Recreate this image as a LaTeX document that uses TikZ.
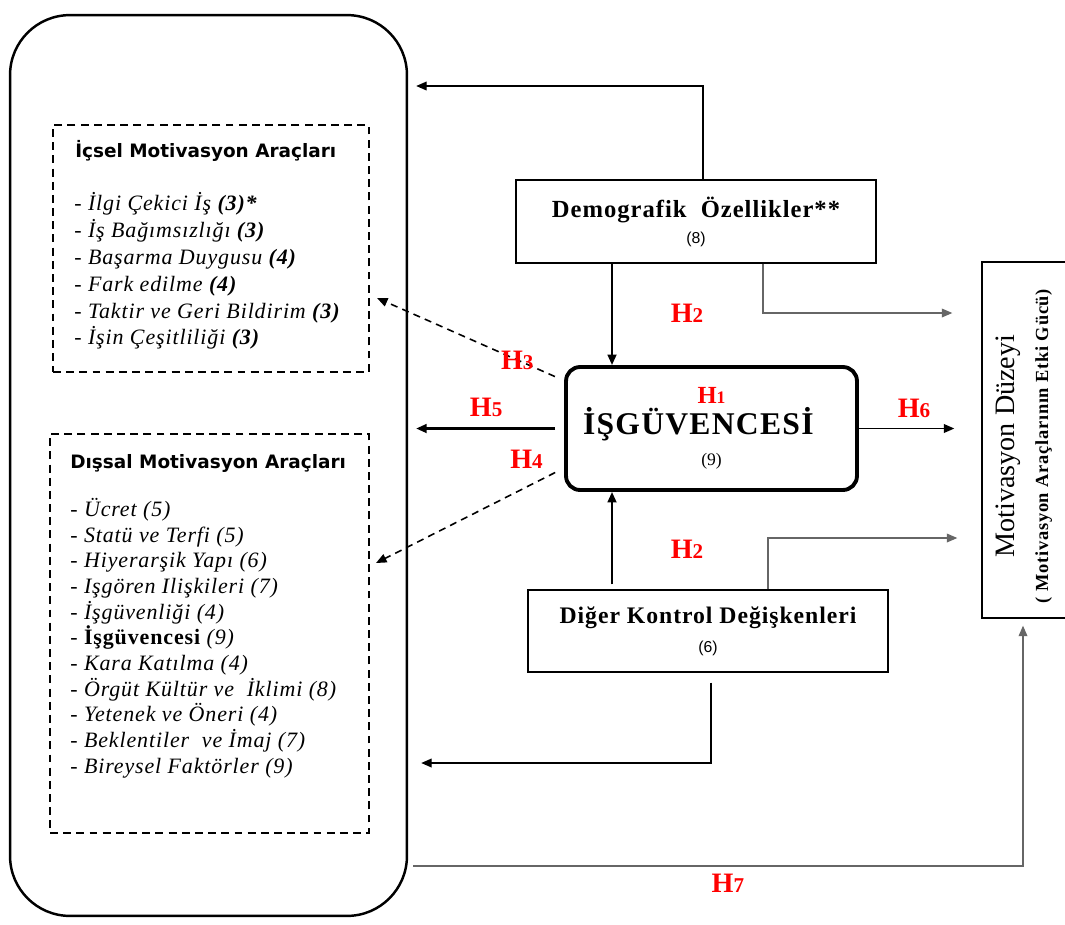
\documentclass[tikz,border=0pt]{standalone}
\usepackage{fontspec}
\setmainfont{Liberation Serif}
\setsansfont{Liberation Sans}
\newfontfamily\widefont{Liberation Serif}[LetterSpace=4]
\newfontfamily\headfont{DejaVu Sans}
\usetikzlibrary{positioning, arrows.meta}

\newcommand{\hyp}[1]{{\fontsize{16}{16}\selectfont H}{\fontsize{12}{12}\selectfont #1}}

\begin{document}
\begin{tikzpicture}[x=0.02cm, y=-0.02cm, >={Triangle[length=6pt,width=5pt]},
    box/.style={draw, line width=0.8pt, align=center, inner sep=0pt},
    dashbox/.style={draw, dash pattern=on 4.5pt off 3pt, line width=0.8pt, inner sep=0pt},
    head/.style={font=\headfont\bfseries\fontsize{10.5}{12}\selectfont, anchor=west, inner sep=0pt},
    items/.style={align=left, anchor=north west, inner sep=0pt},
    hlab/.style={text=red, font=\bfseries, inner sep=0pt},
    thinarrow/.style={->, draw=gray!80!black, line width=0.7pt},
    bold arrow/.style={->, line width=1.3pt}]
    \useasboundingbox (0,0) rectangle (1065,924);

    % Left block: motivation tools
    \node[draw, line width=1.4pt, rounded corners=1.2cm, minimum width=7.94cm, minimum height=18.02cm] (tools) at (208.5,465.5) {};
    \node[dashbox, minimum width=6.32cm, minimum height=4.94cm] (ich) at (211,248.5) {};
    \node[dashbox, minimum width=6.38cm, minimum height=7.98cm] (dis) at (209.5,633.5) {};

    \node[head] (ichead) at (75,151) {İçsel Motivasyon Araçları};
    \node[items, font=\widefont\itshape\fontsize{12.5}{15.3}\selectfont] (ichlist) at (74,192)
        {- İlgi Çekici İş \textbf{(3)*}\\
         - İş Bağımsızlığı \textbf{(3)}\\
         - Başarma Duygusu \textbf{(4)}\\
         - Fark edilme \textbf{(4)}\\
         - Taktir ve Geri Bildirim \textbf{(3)}\\
         - İşin Çeşitliliği \textbf{(3)}};

    \node[head] (dishead) at (70,463) {Dışsal Motivasyon Araçları};
    \node[items, font=\widefont\itshape\fontsize{12.5}{14.6}\selectfont] (dislist) at (70,498)
        {- Ücret (5)\\
         - Statü ve Terfi (5)\\
         - Hiyerarşik Yapı (6)\\
         - Işgören Ilişkileri (7)\\
         - İşgüvenliği (4)\\
         - \textbf{\upshape İşgüvencesi} (9)\\
         - Kara Katılma (4)\\
         - Örgüt Kültür ve \ İklimi (8)\\
         - Yetenek ve Öneri (4)\\
         - Beklentiler \ ve İmaj (7)\\
         - Bireysel Faktörler (9)};

    % Middle blocks
    \node[box, minimum width=7.2cm, minimum height=1.66cm, font=\fontsize{10}{14.7}\selectfont] (demo) at (696,221.5)
        {{\widefont\bfseries\fontsize{14}{14.7}\selectfont Demografik \ Özellikler**}\\ {\sffamily\fontsize{9}{14.7}\selectfont (8)}};
    \node[draw, line width=2.2pt, rounded corners=8pt, align=center, inner sep=0pt,
          minimum width=5.82cm, minimum height=2.46cm, font=\fontsize{10}{17.6}\selectfont] (job) at (711.5,428.5)
        {{\color{red}\bfseries\fontsize{14}{17.6}\selectfont H\fontsize{10}{17.6}\selectfont 1}\\
         {\widefont\bfseries\fontsize{18}{17.6}\selectfont İŞGÜVENCESİ\kern15pt}\\
         {\fontsize{10}{17.6}\selectfont (9)}};
    \node[box, minimum width=7.2cm, minimum height=1.64cm, font=\fontsize{10}{16.4}\selectfont] (cont) at (708,631)
        {{\widefont\bfseries\fontsize{13.5}{16.4}\selectfont Diğer Kontrol Değişkenleri}\\ {\sffamily\fontsize{9}{16.4}\selectfont (6)}};

    % Right block
    \node[box, minimum width=1.68cm, minimum height=7.12cm] (mot) at (1024,440) {};
    \node[rotate=90, align=center, font=\fontsize{16}{19}\selectfont] (mottxt) at (1024,446)
        {Motivasyon Düzeyi\\ {\widefont\bfseries\fontsize{10.5}{10}\selectfont ( Motivasyon Araçlarının Etki Gücü)}};

    % Turning points
    \coordinate (top) at (703,86);
    \coordinate (mid) at (612,0);
    \coordinate (k1) at (763,313);
    \coordinate (k2) at (768,538);
    \coordinate (k3) at (711,763);
    \coordinate (k4) at (1023,866);
    \coordinate (h3end) at (377,298);
    \coordinate (h4end) at (376,563);

    % Connectors
    \draw[->, line width=0.8pt, shorten >=0.16cm] (demo.north -| top) |- (tools.east |- top);
    \draw[bold arrow] (demo.south -| mid) -- (job.north -| mid);
    \draw[thinarrow, shorten >=0.58cm] (demo.south -| k1) |- (mot.west |- k1);
    \draw[bold arrow, shorten <=0.18cm, shorten >=0.16cm] (job.west) -- (tools.east |- job.west)
        node[hlab, midway, above=6pt] {\hyp{5}};
    \draw[->, line width=0.8pt, shorten >=0.54cm] (job.east) -- (mot.west |- job.east)
        node[hlab, pos=0.45, above=6pt] {\hyp{6}};
    \draw[->, line width=0.9pt, dash pattern=on 4pt off 3pt, shorten <=0.2cm] (job.162) -- (h3end)
        node[hlab, pos=0.25] {\hyp{3}};
    \draw[->, line width=0.9pt, dash pattern=on 4pt off 3pt, shorten <=0.2cm] (job.195) -- (h4end)
        node[hlab, pos=0.2, above=10pt] {\hyp{4}};
    \draw[bold arrow, shorten <=0.1cm] (cont.north -| mid) -- (job.south -| mid);
    \draw[thinarrow, shorten >=0.48cm] (cont.north -| k2) |- (mot.west |- k2);
    \draw[->, line width=0.8pt, shorten <=0.2cm, shorten >=0.26cm] (cont.south -| k3) |- (tools.east |- k3);
    \draw[thinarrow, shorten <=0.1cm, shorten >=0.14cm] (tools.east |- k4) -| (mot.south -| k4)
        node[hlab, pos=0.26, below=4pt] {\hyp{7}};

    % H2 labels
    \node[hlab] (h2a) at (687,313) {\hyp{2}};
    \node[hlab] (h2b) at (687,549) {\hyp{2}};
\end{tikzpicture}
\end{document}
